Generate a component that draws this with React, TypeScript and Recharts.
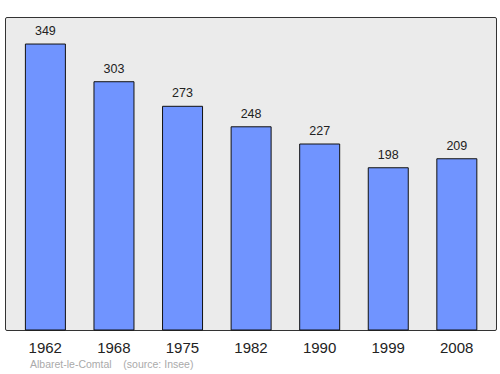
import { Bar, BarChart, LabelList, XAxis, YAxis } from 'recharts';

const YEARS = ['1962', '1968', '1975', '1982', '1990', '1999', '2008'];
const POPULATION = [349, 303, 273, 248, 227, 198, 209];

const data = YEARS.map((year, i) => ({ year, value: POPULATION[i] }));

const FONT = '"Liberation Sans", Arial, sans-serif';

export default function App() {
  return (
    <div style={{ position: 'relative', width: 500, height: 374, fontFamily: FONT }}>
      <style>{'body{margin:0}'}</style>
      {/* plot background + frame */}
      <div
        style={{
          position: 'absolute',
          left: 5,
          top: 17,
          width: 492,
          height: 314,
          boxSizing: 'border-box',
          border: '1.5px solid #333',
          borderRadius: 2,
          background: '#ebebeb',
        }}
      />
      <div style={{ position: 'absolute', left: 0, top: 0 }}>
        <BarChart
          width={500}
          height={374}
          data={data}
          margin={{ top: 17, right: 3, bottom: 14, left: 5 }}
          barCategoryGap="21%">
          <XAxis
            dataKey="year"
            height={30}
            axisLine={false}
            tickLine={false}
            tickMargin={6}
            padding={{ left: 6, right: 6 }}
            tick={{ fontSize: 15, fill: '#222', fontFamily: FONT }}
          />
          <YAxis hide domain={[0, 382]} />
          <Bar dataKey="value" fill="#7094ff" stroke="#111" strokeWidth={1} isAnimationActive={false}>
            <LabelList
              dataKey="value"
              position="top"
              offset={9}
              style={{ fontSize: 12.5, fill: '#222', fontFamily: FONT }}
            />
          </Bar>
        </BarChart>
      </div>
      <div
        style={{
          position: 'absolute',
          left: 30,
          top: 358,
          fontSize: 10.5,
          color: '#aaa',
          whiteSpace: 'pre',
        }}>
        {'Albaret-le-Comtal    (source: Insee)'}
      </div>
    </div>
  );
}
